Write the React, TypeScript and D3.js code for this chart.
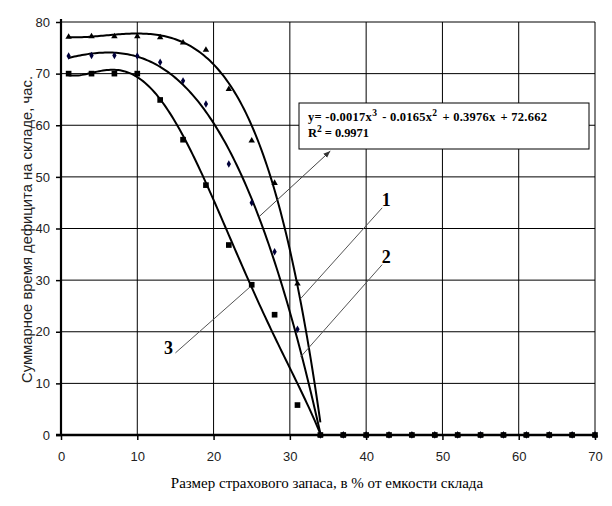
import React, { useEffect, useRef } from 'react';
import * as d3 from 'd3';

// x positions of the measured points (share of warehouse capacity, %)
const xMain = [1, 4, 7, 10, 13, 16, 19, 22, 25, 28, 31, 34];
const xTail = [37, 40, 43, 46, 49, 52, 55, 58, 61, 64, 67, 70];

// total deficit time, hours
const series1 = [77.1, 77.2, 77.2, 77.2, 77.0, 76.0, 74.6, 67.0, 57.0, 48.8, 29.3, 0];
const series2 = [73.4, 73.5, 73.5, 73.4, 72.2, 68.6, 64.1, 52.5, 45.0, 35.5, 20.5, 0];
const series3 = [70.0, 70.0, 70.0, 70.0, 64.9, 57.2, 48.4, 36.8, 29.1, 23.3, 5.8, 0];

// trend of curve 2, as printed in the box: a3, a2, a1, a0
const trend2 = [-0.0017, -0.0165, 0.3976, 72.662];

// trend curves 1 and 3
const trend1X = [1, 4, 7, 10, 13, 16, 19, 22, 25, 27.3, 29.5, 30.8, 32, 33.5, 34.07];
const trend1Y = [77.0, 77.3, 77.6, 77.6, 77.3, 76.2, 73.0, 68.8, 59.7, 50, 40, 30, 20.3, 10, 0];
const trend3X = [1, 4, 7, 10, 13, 16, 19, 22.2, 24.8, 26.25, 30.05, 31, 34.07];
const trend3Y = [69.7, 70.2, 70.6, 69.2, 65.5, 58.1, 48.1, 38.1, 30, 24.2, 12.6, 10, 0];

const xTicks = [0, 10, 20, 30, 40, 50, 60, 70];
const yTicks = [0, 10, 20, 30, 40, 50, 60, 70, 80];

// leader lines for curve numbers, in data units: [label, x1, y1, x2, y2]
const leaders: [string, number, number, number, number][] = [
  ['1', 42.1, 44.0, 31.4, 26.4],
  ['2', 42.1, 33.0, 31.4, 15.1],
  ['3', 15.0, 15.9, 24.8, 28.7],
];

// least squares polynomial fit on x scaled to [0,1]
function fitPoly(xs: number[], ys: number[], deg: number) {
  const s = 34;
  const u = xs.map(v => v / s);
  const n = deg + 1;
  const A: number[][] = [];
  for (let r = 0; r < n; r++) {
    const row: number[] = [];
    for (let c = 0; c < n; c++) row.push(d3.sum(u, v => Math.pow(v, r + c)));
    row.push(d3.sum(u, (v, i) => Math.pow(v, r) * ys[i]));
    A.push(row);
  }
  for (let i = 0; i < n; i++) {
    let p = i;
    for (let k = i + 1; k < n; k++) if (Math.abs(A[k][i]) > Math.abs(A[p][i])) p = k;
    [A[i], A[p]] = [A[p], A[i]];
    for (let k = i + 1; k < n; k++) {
      const f = A[k][i] / A[i][i];
      for (let c = i; c <= n; c++) A[k][c] -= f * A[i][c];
    }
  }
  const coef = new Array(n).fill(0);
  for (let i = n - 1; i >= 0; i--) {
    let t = A[i][n];
    for (let c = i + 1; c < n; c++) t -= A[i][c] * coef[c];
    coef[i] = t / A[i][i];
  }
  return (x: number) => d3.sum(coef, (k, i) => k * Math.pow(x / s, i));
}

const cubic = (k: number[]) => (x: number) => ((k[0] * x + k[1]) * x + k[2]) * x + k[3];

const App: React.FC = () => {
  const ref = useRef<SVGSVGElement | null>(null);

  useEffect(() => {
    if (!ref.current) return;
    const svg = d3.select(ref.current);
    svg.selectAll('*').remove();

    const x = d3.scaleLinear().domain([0, 70]).range([61, 595]);
    const y = d3.scaleLinear().domain([0, 80]).range([435, 22]);
    const sans = '"Liberation Sans", Arial, sans-serif';
    const serif = '"Liberation Serif", "Times New Roman", serif';

    // grid
    const g = svg.append('g');
    g.selectAll('line.v').data(xTicks.slice(1)).enter().append('line')
      .attr('x1', d => x(d)).attr('x2', d => x(d))
      .attr('y1', y(0)).attr('y2', y(80))
      .attr('stroke', '#000').attr('stroke-width', 1);
    g.selectAll('line.h').data(yTicks.slice(1)).enter().append('line')
      .attr('x1', x(0)).attr('x2', x(70))
      .attr('y1', d => y(d)).attr('y2', d => y(d))
      .attr('stroke', '#000').attr('stroke-width', 1);

    // axes
    const yAxis = d3.axisLeft(y).tickValues(yTicks).tickSize(5).tickPadding(6).tickFormat(d3.format('d'));
    const ya = svg.append('g').attr('transform', `translate(${x(0)},0)`).call(yAxis);
    ya.select('.domain').remove();
    ya.selectAll('line').attr('stroke-width', 1.5);
    ya.selectAll('text').attr('font-family', sans).attr('font-size', 13).attr('fill', '#222');
    svg.append('line').attr('x1', x(0)).attr('x2', x(0)).attr('y1', y(0) + 1).attr('y2', y(80) - 3)
      .attr('stroke', '#000').attr('stroke-width', 2.2);

    const xAxis = d3.axisBottom(x).tickValues(xTicks).tickSize(5).tickPadding(12).tickFormat(d3.format('d'));
    const xa = svg.append('g').attr('transform', `translate(0,${y(0)})`).call(xAxis);
    xa.select('.domain').remove();
    xa.selectAll('line').attr('stroke-width', 1.5);
    xa.selectAll('text').attr('font-family', sans).attr('font-size', 13).attr('fill', '#222');
    svg.append('line').attr('x1', x(0) - 5).attr('x2', x(70) + 2).attr('y1', y(0)).attr('y2', y(0))
      .attr('stroke', '#000').attr('stroke-width', 2.5);

    // trend curves
    const xsFine = d3.range(1, 34.001, 0.25);
    const trends = [fitPoly(trend1X, trend1Y, 5), cubic(trend2), fitPoly(trend3X, trend3Y, 5)];
    trends.forEach(f => {
      const line = d3.line<number>().x(d => x(d)).y(d => y(f(d)));
      svg.append('path')
        .attr('d', line(xsFine))
        .attr('fill', 'none').attr('stroke', '#000').attr('stroke-width', 2);
    });

    // markers
    const marks: [number[], d3.SymbolType, number, string][] = [
      [series1, d3.symbolTriangle, 18, '#000'],
      [series2, d3.symbolDiamond, 16, '#00003a'],
      [series3, d3.symbolSquare, 32, '#000'],
    ];
    marks.forEach(([s, type, size, color]) => {
      const pts = xMain.map((xv, i) => [xv, s[i]]).concat(xTail.map(xv => [xv, 0]));
      svg.append('g').selectAll('path').data(pts).enter().append('path')
        .attr('transform', d => `translate(${x(d[0])},${y(d[1])})`)
        .attr('d', d3.symbol().type(type).size(size)())
        .attr('fill', color);
    });

    // leaders and numbers
    leaders.forEach(([lab, x1, y1, x2, y2]) => {
      svg.append('line')
        .attr('x1', x(x1)).attr('y1', y(y1)).attr('x2', x(x2)).attr('y2', y(y2))
        .attr('stroke', '#555').attr('stroke-width', 1);
      const left = lab === '3';
      svg.append('text')
        .attr('x', left ? x(x1) - 7 : x(x1) + 4)
        .attr('y', left ? y(y1) + 1 : y(y1) - 2)
        .attr('text-anchor', 'middle')
        .attr('font-family', serif).attr('font-weight', 'bold').attr('font-size', 18)
        .text(lab);
    });

    // equation box with arrow
    const defs = svg.append('defs');
    defs.append('marker').attr('id', 'arr').attr('viewBox', '0 0 10 10')
      .attr('refX', 10).attr('refY', 5).attr('markerWidth', 7).attr('markerHeight', 7)
      .attr('orient', 'auto')
      .append('path').attr('d', 'M0,1 L10,5 L0,9 Z').attr('fill', '#333');
    svg.append('line')
      .attr('x1', x(25.9)).attr('y1', y(42.2)).attr('x2', x(35.3)).attr('y2', y(55.0))
      .attr('stroke', '#444').attr('stroke-width', 1).attr('marker-end', 'url(#arr)');

    const bx = 299, by = 103, bw = 290, bh = 46;
    svg.append('rect').attr('x', bx).attr('y', by).attr('width', bw).attr('height', bh)
      .attr('fill', '#fff').attr('stroke', '#000').attr('stroke-width', 1);
    const eq = svg.append('text').attr('x', bx + 9).attr('y', by + 18)
      .attr('font-family', serif).attr('font-weight', 'bold').attr('font-size', 12.5)
      .attr('textLength', 239).attr('lengthAdjust', 'spacing');
    eq.append('tspan').text('y= -0.0017x');
    eq.append('tspan').attr('dy', -5).attr('font-size', 9.5).text('3');
    eq.append('tspan').attr('dy', 5).attr('dx', 5).text('- 0.0165x');
    eq.append('tspan').attr('dy', -5).attr('font-size', 9.5).text('2');
    eq.append('tspan').attr('dy', 5).attr('dx', 5).text('+ 0.3976x');
    eq.append('tspan').attr('dx', 5).text('+ 72.662');
    const r2 = svg.append('text').attr('x', bx + 9).attr('y', by + 34)
      .attr('font-family', serif).attr('font-weight', 'bold').attr('font-size', 12.5)
      .attr('textLength', 61).attr('lengthAdjust', 'spacing');
    r2.append('tspan').text('R');
    r2.append('tspan').attr('dy', -5).attr('font-size', 9.5).text('2');
    r2.append('tspan').attr('dy', 5).text(' = 0.9971');

    // axis titles
    svg.append('text')
      .attr('transform', `translate(32,${(y(0) + y(80)) / 2 + 1}) rotate(-90)`)
      .attr('text-anchor', 'middle')
      .attr('font-family', sans).attr('font-size', 14.8).attr('fill', '#222')
      .text('Суммарное время дефицита на складе, час.');
    svg.append('text')
      .attr('x', 327).attr('y', 488)
      .attr('text-anchor', 'middle')
      .attr('font-family', serif).attr('font-size', 15)
      .text('Размер страхового запаса, в % от емкости склада');
  }, []);

  return (
    <div>
      <style>{'body{margin:0}'}</style>
      <svg ref={ref} width={612} height={506} style={{ display: 'block', background: '#fff' }} />
    </div>
  );
};

export default App;
